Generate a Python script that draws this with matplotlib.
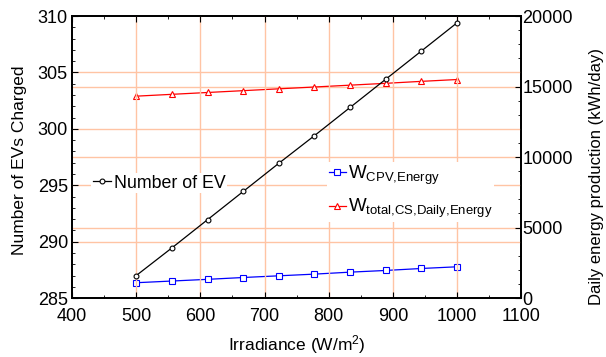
import numpy as np
import matplotlib
matplotlib.use("Agg")
import matplotlib.pyplot as plt
from matplotlib.ticker import AutoMinorLocator

plt.rcParams['font.family'] = ['Liberation Sans', 'DejaVu Sans']
plt.rcParams['mathtext.fontset'] = 'custom'
plt.rcParams['mathtext.rm'] = 'Liberation Sans'
plt.rcParams['mathtext.it'] = 'Liberation Sans'

irradiance = np.linspace(500, 1000, 10)
num_ev = [287.0, 289.45, 291.95, 294.45, 296.95, 299.4, 301.9, 304.4, 306.9, 309.4]
w_cpv = [1090, 1210, 1330, 1460, 1580, 1700, 1840, 1960, 2100, 2220]
w_total = [14320, 14450, 14580, 14710, 14840, 14970, 15100, 15230, 15370, 15500]

grid_c = '#ffc4a4'

fig = plt.figure(figsize=(6.06, 3.57), dpi=100)
ax = fig.add_axes([0.119, 0.165, 0.741, 0.79])
ax2 = ax.twinx()

ax.set_xlim(400, 1100)
ax.set_ylim(285, 310)
ax2.set_ylim(0, 20000)

# grid lines (both axes)
for xv in range(500, 1100, 100):
    ax.axvline(xv, color=grid_c, lw=1, zorder=0)
for yv in [290, 295, 300, 305]:
    ax.axhline(yv, color=grid_c, lw=1, zorder=0)
for yv in [5000, 10000, 15000]:
    ax2.axhline(yv, color=grid_c, lw=1, zorder=0)

l1, = ax.plot(irradiance, num_ev, color='black', lw=0.9, marker='o', ms=3.5,
              mfc='white', mew=0.8, label='Number of EV')
l2, = ax2.plot(irradiance, w_cpv, color='blue', lw=0.9, marker='s', ms=4,
               mfc='white', mew=0.8, label='W$_{\\mathrm{CPV{,}Energy}}$')
l3, = ax2.plot(irradiance, w_total, color='red', lw=0.9, marker='^', ms=4,
               mfc='white', mew=0.8,
               label='W$_{\\mathrm{total{,}CS{,}Daily{,}Energy}}$')

ax.set_xticks(range(400, 1101, 100))
ax.set_yticks(range(285, 311, 5))
ax2.set_yticks(range(0, 20001, 5000))
ax.xaxis.set_minor_locator(AutoMinorLocator(2))
ax.yaxis.set_minor_locator(AutoMinorLocator(5))
ax2.yaxis.set_minor_locator(AutoMinorLocator(5))
ax.tick_params(which='both', direction='in', top=True, labelsize=13)
ax.tick_params(axis='x', pad=7)
ax.tick_params(axis='y', pad=3)
ax.tick_params(which='major', length=4)
ax.tick_params(which='minor', length=2)
ax2.tick_params(which='both', direction='in', labelsize=13, pad=1)
ax2.tick_params(which='major', length=4)
ax2.tick_params(which='minor', length=2)
for a in (ax, ax2):
    for s in a.spines.values():
        s.set_linewidth(1.3)

ax.set_xlabel('Irradiance (W/m$^2$)', fontsize=12.5)
ax.xaxis.set_label_coords(0.5, -0.125)
ax.set_ylabel('Number of EVs Charged', fontsize=12.5)
ax.yaxis.set_label_coords(-0.10, 0.49)
ax2.set_ylabel('Daily energy production (kWh/day)', fontsize=12)
ax2.yaxis.set_label_coords(1.15, 0.43)

ax.set_zorder(ax2.get_zorder() + 1)
ax.patch.set_visible(False)

leg1 = ax.legend(handles=[l1], loc='center left', bbox_to_anchor=(0.043, 0.408),
                 frameon=True, edgecolor='none', fancybox=False, fontsize=12.8,
                 handlelength=1.0, handletextpad=0.15, borderpad=0.1,
                 borderaxespad=0, framealpha=1)
ax.add_artist(leg1)
ax.legend(handles=[l2, l3], loc='center left', bbox_to_anchor=(0.568, 0.376),
          frameon=True, edgecolor='none', fancybox=False, framealpha=1,
          fontsize=13.5, handlelength=0.9, handletextpad=0.1,
          labelspacing=0.55, borderpad=0.1, borderaxespad=0)

fig.savefig('out.png', dpi=100)
